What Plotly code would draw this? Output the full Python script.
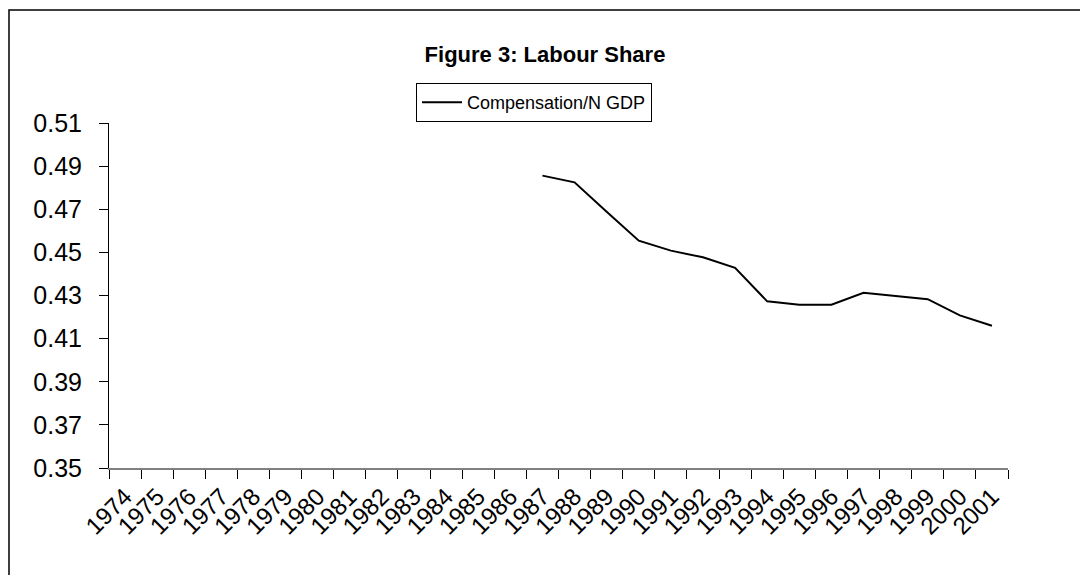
import plotly.graph_objects as go

years = [str(y) for y in range(1974, 2002)]
labour_share = [None] * 13 + [
    0.4856, 0.4825, 0.4688, 0.4554, 0.4508, 0.4477, 0.4428, 0.4273,
    0.4257, 0.4257, 0.4313, 0.4298, 0.4283, 0.4208, 0.4160,
]
series_name = "Compensation/N GDP"
title_text = "<b>Figure 3: Labour Share</b>"

FONT = "Arial, Liberation Sans, sans-serif"

# page body has an 8px default margin; figure coordinates are offset accordingly
W, H = 1080, 567
L, R, T, B = 101, 1000, 115, 460   # plot area in figure pixels
PW, PH = R - L, B - T

def px_x(x):
    return (x - 8 - L) / PW

def px_y(y):
    return (B - (y - 8)) / PH

fig = go.Figure()
fig.add_trace(go.Scatter(
    x=years, y=labour_share, mode="lines", name=series_name,
    line=dict(color="black", width=2), connectgaps=False,
))

fig.update_layout(
    width=W, height=H,
    margin=dict(l=L, r=W - R, t=T, b=H - B, autoexpand=False),
    paper_bgcolor="white", plot_bgcolor="white",
    font=dict(family=FONT, color="black"),
    title=dict(text=title_text, x=(545 - 8) / W, xref="container", xanchor="center",
               y=1 - (54 - 8) / H, yref="container", yanchor="middle",
               font=dict(family=FONT, size=22, color="black")),
    showlegend=True,
    legend=dict(x=px_x(416), y=px_y(83), xanchor="left", yanchor="top",
                bgcolor="white", bordercolor="black", borderwidth=1,
                itemwidth=40,
                font=dict(family=FONT, size=18, color="black")),
    xaxis=dict(type="category", categoryorder="array", categoryarray=years,
               range=[-0.5, len(years) - 0.5], tickson="boundaries",
               ticks="outside", ticklen=9, tickcolor="black", tickwidth=1,
               ticklabelstandoff=3,
               showline=True, linecolor="#808080", linewidth=2,
               showgrid=False, zeroline=False, tickangle=-45,
               tickfont=dict(family=FONT, size=24, color="black")),
    yaxis=dict(range=[0.35, 0.51], dtick=0.02, tick0=0.35, tickformat=".2f",
               ticks="outside", ticklen=9, tickcolor="black", tickwidth=1,
               ticklabelstandoff=12,
               showline=True, linecolor="black", linewidth=1,
               showgrid=False, zeroline=False,
               tickfont=dict(family=FONT, size=25, color="black")),
    shapes=[dict(type="rect", xref="paper", yref="paper",
                 x0=px_x(9), x1=px_x(1082),
                 y0=px_y(620), y1=px_y(10),
                 line=dict(color="black", width=1.5), fillcolor="rgba(0,0,0,0)",
                 layer="below")],
)

fig.write_html("out.html")
